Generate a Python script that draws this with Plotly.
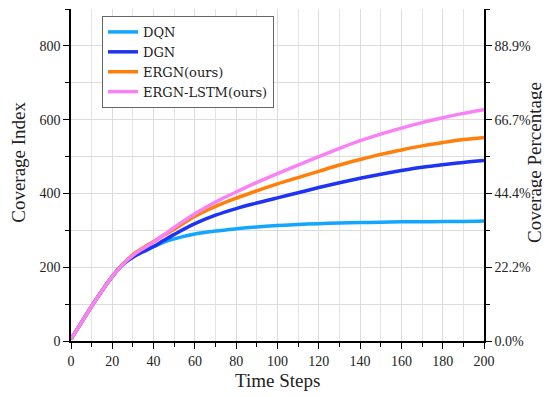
import plotly.graph_objects as go

steps = [0, 5, 10, 15, 20, 25, 30, 35, 40, 45, 50, 60, 70, 80, 90, 100,
         110, 120, 130, 140, 150, 160, 170, 180, 190, 200]
dqn = [5, 50, 94, 136, 175, 207, 229, 244, 256, 268, 277, 290, 298, 304, 309, 313,
       316, 318, 320, 321, 322, 323, 323, 324, 324, 325]
dgn = [5, 50, 94, 136, 175, 207, 227, 242, 256, 273, 289, 318, 341, 359, 374, 388,
       402, 416, 429, 441, 452, 462, 471, 478, 484, 489]
ergn = [5, 50, 94, 136, 175, 208, 234, 253, 270, 287, 303, 338, 365, 387, 407, 426,
        443, 460, 477, 492, 506, 518, 529, 538, 546, 552]
lstm = [5, 50, 94, 136, 175, 207, 232, 251, 268, 288, 308, 345, 377, 404, 430, 454,
        477, 500, 522, 543, 561, 577, 592, 605, 617, 627]

names = ["DQN", "DGN", "ERGN(ours)", "ERGN-LSTM(ours)"]
colors = ["#12A6FF", "#1F33F5", "#FF7F0A", "#F882F5"]
series = [dqn, dgn, ergn, lstm]

left_ticks = [0, 200, 400, 600, 800]
right_labels = ["0.0%", "22.2%", "44.4%", "66.7%", "88.9%"]

FONT = "Liberation Serif, DejaVu Serif, serif"
LFONT = "DejaVu Serif, Liberation Serif, serif"

fig = go.Figure()
for n, c, s in zip(names, colors, series):
    fig.add_trace(go.Scatter(x=steps, y=s, name=n, mode="lines",
                             line=dict(color=c, width=3.5, shape="spline", smoothing=1.0)))
# invisible trace to anchor the right axis
fig.add_trace(go.Scatter(x=steps, y=dqn, yaxis="y2", mode="lines",
                         line=dict(width=0), opacity=0, showlegend=False,
                         hoverinfo="skip"))

axis_common = dict(showline=True, linecolor="black", linewidth=1.5,
                   ticks="outside", ticklen=6, tickwidth=1.3, tickcolor="black",
                   tickfont=dict(family=FONT, size=14, color="#222"),
                   zeroline=False, automargin=False)

# the page body has an 8px default margin; size the figure to fit the window
fig.update_layout(
    width=542, height=389,
    margin=dict(l=63, r=66, t=1, b=56),
    paper_bgcolor="white", plot_bgcolor="white",
    font=dict(family=FONT, color="#222"),
    xaxis=dict(range=[0, 200], dtick=20, tick0=0, showgrid=True,
               gridcolor="#dcdcdc", gridwidth=1,
               minor=dict(dtick=10, showgrid=True, gridcolor="#e4e4e4",
                          ticks="outside", ticklen=4, tickcolor="black"),
               **axis_common),
    yaxis=dict(range=[0, 900], tickvals=left_ticks, showgrid=True,
               gridcolor="#dcdcdc", gridwidth=1,
               minor=dict(dtick=100, showgrid=True, gridcolor="#dcdcdc",
                          ticks="outside", ticklen=4, tickcolor="black"),
               **axis_common),
    yaxis2=dict(range=[0, 900], overlaying="y", side="right",
                tickvals=left_ticks, ticktext=right_labels, showgrid=False,
                minor=dict(dtick=100, ticks="outside", ticklen=4, tickcolor="black"),
                **axis_common),
    legend=dict(x=0.075, y=0.979, xanchor="left", yanchor="top",
                bordercolor="#666", borderwidth=1, bgcolor="white",
                font=dict(family=LFONT, size=13, color="#222"),
                tracegroupgap=0, itemwidth=30),
    showlegend=True,
    annotations=[
        dict(text="Time Steps", xref="paper", yref="paper", x=0.5, y=-0.12,
             xanchor="center", yanchor="middle", showarrow=False,
             font=dict(family=FONT, size=19, color="#222")),
        dict(text="Coverage Index", xref="paper", yref="paper", x=-0.129, y=0.539,
             xanchor="center", yanchor="middle", showarrow=False, textangle=-90,
             font=dict(family=FONT, size=19, color="#222")),
        dict(text="Coverage Percentage", xref="paper", yref="paper", x=1.121, y=0.539,
             xanchor="center", yanchor="middle", showarrow=False, textangle=-90,
             font=dict(family=FONT, size=19, color="#222")),
    ],
)

fig.write_html("out.html")
